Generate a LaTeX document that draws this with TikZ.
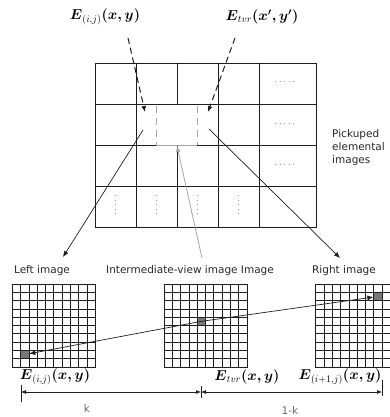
\documentclass[tikz,border=0pt]{standalone}
\usepackage{amsmath,amssymb}
\usepackage{fontspec}
\setsansfont{DejaVu Sans}
\usepackage{tikz}
\usetikzlibrary{arrows.meta}
\definecolor{figline}{RGB}{30,30,30}
\definecolor{figdash}{RGB}{165,165,165}
\definecolor{figcell}{RGB}{120,120,120}
\definecolor{figtext}{RGB}{40,40,40}
\definecolor{figdots}{RGB}{150,150,150}
\tikzset{
  gl/.style  ={draw=figline, line width=0.9pt},
  sg/.style  ={draw=figline, line width=0.8pt},
  lab/.style ={font=\sffamily\fontsize{10.5}{13}\selectfont, text=figtext, inner sep=1pt, align=left},
  mlab/.style={font=\fontsize{14}{16}\selectfont, inner sep=1pt},
  ptr/.style ={draw=figline, line width=0.7pt, -{Latex[length=6pt,width=5pt]}},
  dptr/.style={ptr, line width=1pt, dash pattern=on 6pt off 4pt},
  gptr/.style={draw=figdash, line width=0.8pt, -{Latex[length=6pt,width=5pt]}},
  dimp/.style={draw=figline, line width=0.7pt, {Latex[length=5pt,width=4pt]}-{Latex[length=5pt,width=4pt]}},
  cell/.style={fill=figcell, draw=figline, line width=0.8pt, minimum size=8.3pt, inner sep=0pt},
  dots/.style={draw=figdots, line width=1pt, dash pattern=on 1pt off 3.5pt},
}

\begin{document}
\begin{tikzpicture}[x=1pt,y=-1pt]
  \useasboundingbox (0,0) rectangle (390,417);
  % pickuped elemental images
  \draw[gl] (95,63) rectangle (316,227);
  \draw[gl] (95,104) -- (316,104);
  \draw[gl] (95,145) -- (156,145);
  \draw[gl] (197,145) -- (316,145);
  \draw[gl] (95,186) -- (316,186);
  \draw[gl] (136,63) -- (136,227);
  \draw[gl] (177,63) -- (177,104);
  \draw[gl] (177,145) -- (177,227);
  \draw[gl] (218,63) -- (218,227);
  \draw[gl] (259,63) -- (259,227);
  \draw[draw=figdash, line width=0.9pt, dash pattern=on 7pt off 5pt] (156,106) -- (156,145);
  \draw[draw=figdash, line width=0.9pt, dash pattern=on 7pt off 5pt] (197,106) -- (197,145);
  \draw[draw=figdash, line width=0.9pt] (156,145) -- (197,145);
  \draw[dots] (275,82) -- (297,82);
  \draw[dots] (275,123) -- (297,123);
  \draw[dots] (275,164) -- (297,164);
  \draw[dots] (115.5,195) -- (115.5,216);
  \draw[dots] (156.5,195) -- (156.5,216);
  \draw[dots] (197.5,195) -- (197.5,216);
  \draw[dots] (238.5,195) -- (238.5,216);
  \node[lab,right] (pick) at (331,148) {Pickuped\\elemental\\images};
  % top labels
  \node[mlab] (etop) at (105,17) {$\boldsymbol{E}_{(i,j)}\boldsymbol{(x,y)}$};
  \node[mlab] (etvr) at (262,17) {$\boldsymbol{E}_{tvr}\boldsymbol{(x',y')}$};
  \coordinate (pa) at (128,38);
  \coordinate (pb) at (145,112);
  \coordinate (qa) at (235,38);
  \coordinate (qb) at (208,112);
  \draw[dptr] (pa) -- (pb);
  \draw[dptr] (qa) -- (qb);
  % image labels
  \node[lab] (lleft) at (42,271) {Left image};
  \node[lab] (lmid) at (190,271) {Intermediate-view image Image};
  \node[lab] (lright) at (344,271) {Right image};
  \coordinate (la) at (143,130);
  \coordinate (lb) at (63,257);
  \coordinate (ra) at (209,129);
  \coordinate (rb) at (340,258);
  \coordinate (ma) at (202,258);
  \coordinate (mb) at (177,146);
  \draw[ptr] (la) -- (lb);
  \draw[ptr] (ra) -- (rb);
  \draw[gptr] (ma) -- (mb);
  % elemental images
  \begin{scope}[shift={(12.3,284)}]
  \draw[sg, step=8.3pt] (0,0) grid (83.01,83.01);
  \draw[sg] (0,0) rectangle (83,83);
  \node[cell] (cl) at (12.45,70.55) {};
  \end{scope}
  \begin{scope}[shift={(164,284)}]
  \draw[sg, step=8.3pt] (0,0) grid (83.01,83.01);
  \draw[sg] (0,0) rectangle (83,83);
  \node[cell] (cm) at (37.35,37.35) {};
  \end{scope}
  \begin{scope}[shift={(315.7,284)}]
  \draw[sg, step=8.3pt] (0,0) grid (74.71,83.01);
  \draw[sg] (0,0) rectangle (74.7,83);
  \node[cell] (cr) at (62.25,12.45) {};
  \end{scope}
  \draw[ptr] (cm.center) -- (cl);
  \draw[ptr] (cm.center) -- (cr);
  \node[mlab] (eleft) at (55,377) {$\boldsymbol{E}_{(i,j)}\boldsymbol{(x,y)}$};
  \node[mlab] (emid) at (247,377) {$\boldsymbol{E}_{tvr}\boldsymbol{(x,y)}$};
  \node[mlab] (eright) at (340,377) {$\boldsymbol{E}_{(i+1,j)}\boldsymbol{(x,y)}$};
  % distances
  \coordinate (d0) at (21,392);
  \coordinate (d1) at (201,392);
  \coordinate (d2) at (382,392);
  \draw[sg, line width=0.7pt] (21,385) -- (21,402);
  \draw[sg, line width=0.7pt] (201,386) -- (201,398);
  \draw[sg, line width=0.7pt] (382,380) -- (382,396);
  \draw[dimp] (d0) -- (d1);
  \draw[dimp] (d1) -- (d2);
  \node[lab, text=figdots!70!black] (kk) at (87,409) {k};
  \node[lab, text=figdots!70!black] (kr) at (290,411) {1-k};
\end{tikzpicture}
\end{document}
